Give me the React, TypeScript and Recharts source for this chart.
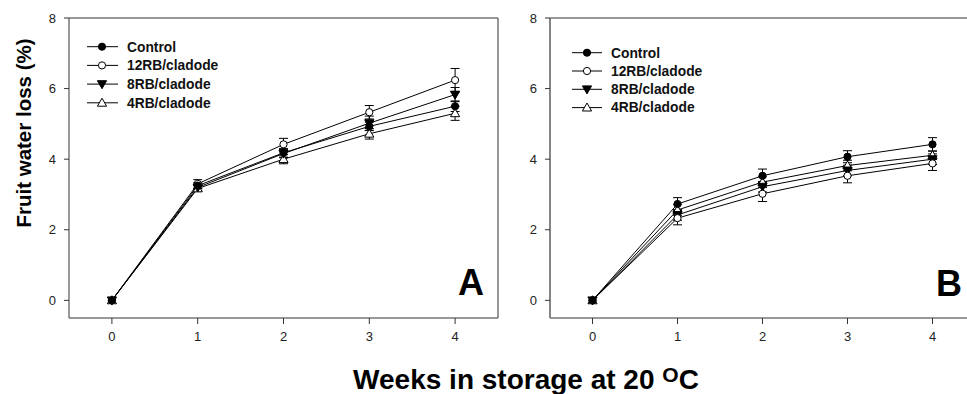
import React from 'react';
import { LineChart, Line, XAxis, YAxis, ErrorBar, ReferenceLine } from 'recharts';

const weeks = [0, 1, 2, 3, 4];
const seriesNames = ['Control', '12RB/cladode', '8RB/cladode', '4RB/cladode'];
const markerKinds = ['filledCircle', 'openCircle', 'filledDown', 'openUp'];
const yTicks = [0, 2, 4, 6, 8];

// Panel A values
const aControl = [0, 3.25, 4.18, 4.93, 5.5];
const a12RB = [0, 3.3, 4.42, 5.33, 6.24];
const a8RB = [0, 3.2, 4.16, 5.02, 5.83];
const a4RB = [0, 3.17, 4.0, 4.72, 5.3];
const aControlErr = [null, 0.08, 0.12, 0.12, 0.15];
const a12RBErr = [null, 0.12, 0.17, 0.19, 0.33];
const a8RBErr = [null, 0.08, 0.12, 0.2, 0.2];
const a4RBErr = [null, 0.08, 0.13, 0.15, 0.2];

// Panel B values
const bControl = [0, 2.73, 3.53, 4.07, 4.42];
const b12RB = [0, 2.33, 3.02, 3.53, 3.88];
const b8RB = [0, 2.42, 3.22, 3.68, 4.0];
const b4RB = [0, 2.56, 3.35, 3.82, 4.11];
const bControlErr = [null, 0.18, 0.19, 0.17, 0.19];
const b12RBErr = [null, 0.19, 0.22, 0.2, 0.2];
const b8RBErr = [null, 0.15, 0.15, 0.15, 0.15];
const b4RBErr = [null, 0.15, 0.15, 0.15, 0.12];

const FONT = "'Liberation Sans', Arial, Helvetica, sans-serif";

const buildRows = (vals: number[][], errs: (number | null)[][]) =>
  weeks.map((w, i) => {
    const row: any = { week: w };
    vals.forEach((v, k) => {
      row[`s${k}`] = v[i];
      row[`e${k}`] = errs[k][i];
    });
    return row;
  });

const dataA = buildRows([aControl, a12RB, a8RB, a4RB], [aControlErr, a12RBErr, a8RBErr, a4RBErr]);
const dataB = buildRows([bControl, b12RB, b8RB, b4RB], [bControlErr, b12RBErr, b8RBErr, b4RBErr]);

const Marker = ({ kind, cx, cy }: { kind: string; cx: number; cy: number }) => {
  if (kind === 'filledCircle') return <circle cx={cx} cy={cy} r={3.6} fill="#000" stroke="#000" strokeWidth={1} />;
  if (kind === 'openCircle') return <circle cx={cx} cy={cy} r={3.6} fill="#fff" stroke="#000" strokeWidth={1} />;
  if (kind === 'filledDown')
    return (
      <polygon
        points={`${cx - 4.6},${cy - 3.4} ${cx + 4.6},${cy - 3.4} ${cx},${cy + 4.6}`}
        fill="#000"
        stroke="#000"
        strokeWidth={1}
      />
    );
  return (
    <polygon
      points={`${cx},${cy - 4.6} ${cx - 4.6},${cy + 3.4} ${cx + 4.6},${cy + 3.4}`}
      fill="#fff"
      stroke="#000"
      strokeWidth={1}
    />
  );
};

const makeDot = (kind: string, k: number) => (p: any) => {
  if (p.cx == null || p.cy == null) return <g key={`d${k}-${p.index}`} />;
  return (
    <g key={`d${k}-${p.index}`}>
      <Marker kind={kind} cx={p.cx} cy={p.cy} />
    </g>
  );
};

const tickStyle = { fill: '#222', fontSize: 13, fontFamily: FONT };

const drawOrder = [3, 2, 1, 0];

const Panel = ({
  data,
  width,
  yWidth,
  marginRight,
  leftAxisColor,
  leftAxisWidth,
  frameRight,
}: {
  data: any[];
  width: number;
  yWidth: number;
  marginRight: number;
  leftAxisColor: string;
  leftAxisWidth: number;
  frameRight: boolean;
}) => (
  <LineChart width={width} height={394} data={data} margin={{ top: 18, right: marginRight, bottom: 46, left: 0 }}>
    <XAxis
      dataKey="week"
      type="number"
      domain={[-0.5, 4.5]}
      ticks={weeks}
      interval={0}
      height={30}
      tickSize={6}
      tickMargin={8}
      stroke="#333"
      tick={tickStyle}
      allowDataOverflow
    />
    <YAxis
      type="number"
      domain={[-0.5, 8]}
      ticks={yTicks}
      interval={0}
      width={yWidth}
      tickSize={5}
      tickMargin={8}
      stroke={leftAxisColor}
      axisLine={{ stroke: leftAxisColor, strokeWidth: leftAxisWidth }}
      tickLine={{ stroke: '#333', strokeWidth: 1 }}
      tick={tickStyle}
      allowDataOverflow
    />
    <ReferenceLine y={8} stroke="#333" strokeWidth={1} ifOverflow="visible" />
    {frameRight && <ReferenceLine x={4.5} stroke="#333" strokeWidth={1} ifOverflow="visible" />}
    {drawOrder.map((k) => (
      <Line
        key={k}
        type="linear"
        dataKey={`s${k}`}
        name={seriesNames[k]}
        stroke="#000"
        strokeWidth={1}
        dot={makeDot(markerKinds[k], k)}
        activeDot={false}
        isAnimationActive={false}
      >
        <ErrorBar dataKey={`e${k}`} width={4.5} stroke="#000" strokeWidth={1} direction="y" />
      </Line>
    ))}
  </LineChart>
);

const LegendBlock = ({ x0, x1, xm, xt, y0, dy }: { x0: number; x1: number; xm: number; xt: number; y0: number; dy: number }) => (
  <g>
    {seriesNames.map((name, k) => {
      const y = y0 + k * dy;
      return (
        <g key={name}>
          <line x1={x0} x2={x1} y1={y} y2={y} stroke="#000" strokeWidth={1} />
          <Marker kind={markerKinds[k]} cx={xm} cy={y} />
          <text x={xt} y={y} dy="0.35em" fontFamily={FONT} fontWeight="bold" fontSize={13.8} fill="#111">
            {name}
          </text>
        </g>
      );
    })}
  </g>
);

export default function App() {
  return (
    <div
      style={{
        position: 'absolute',
        left: 0,
        top: 0,
        width: 967,
        height: 394,
        overflow: 'hidden',
        background: '#fff',
      }}
    >
      <div style={{ position: 'absolute', left: 0, top: 0 }}>
        <Panel data={dataA} width={510} yWidth={69} marginRight={12} leftAxisColor="#333" leftAxisWidth={1} frameRight />
      </div>
      <div style={{ position: 'absolute', left: 500, top: 0 }}>
        <Panel data={dataB} width={480} yWidth={50} marginRight={5} leftAxisColor="#777" leftAxisWidth={1.8} frameRight={false} />
      </div>
      <svg
        width={967}
        height={394}
        style={{ position: 'absolute', left: 0, top: 0, pointerEvents: 'none' }}
      >
        <LegendBlock x0={87} x1={118} xm={102} xt={127} y0={46.7} dy={18.7} />
        <LegendBlock x0={572} x1={602} xm={587} xt={611} y0={52.7} dy={18.3} />
        <text x={458} y={295} fontFamily={FONT} fontWeight="bold" fontSize={36} fill="#000">
          A
        </text>
        <text x={936} y={296} fontFamily={FONT} fontWeight="bold" fontSize={36} fill="#000">
          B
        </text>
        <text
          transform="translate(31,133) rotate(-90)"
          textAnchor="middle"
          fontFamily={FONT}
          fontWeight="bold"
          fontSize={20.5}
          fill="#000"
        >
          Fruit water loss (%)
        </text>
        <text x={526} y={389} textAnchor="middle" fontFamily={FONT} fontWeight="bold" fontSize={28} fill="#000">
          Weeks in storage at 20{' '}
          <tspan fontSize={21} dy={-7}>
            O
          </tspan>
          <tspan dy={7}>C</tspan>
        </text>
      </svg>
    </div>
  );
}
